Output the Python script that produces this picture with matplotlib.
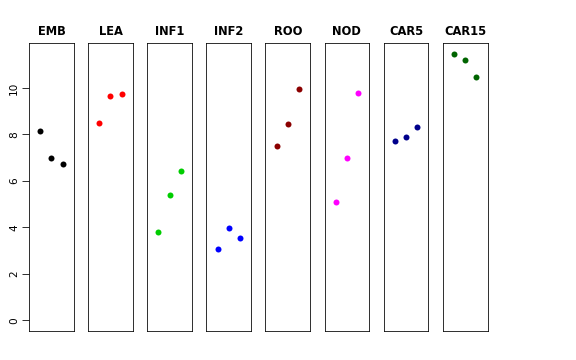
import matplotlib
matplotlib.use("Agg")
import matplotlib.pyplot as plt

# one panel per tissue, three replicate values each
tissues = ["EMB", "LEA", "INF1", "INF2", "ROO", "NOD", "CAR5", "CAR15"]
emb = [8.14, 6.97, 6.74]
lea = [8.47, 9.66, 9.72]
inf1 = [3.82, 5.41, 6.41]
inf2 = [3.06, 3.96, 3.55]
roo = [7.48, 8.44, 9.97]
nod = [5.11, 6.98, 9.80]
car5 = [7.71, 7.88, 8.31]
car15 = [11.46, 11.20, 10.46]
colors = ["black", "#FF0000", "#00CD00", "#0000FF", "#8B0000", "#FF00FF", "#00008B", "#006400"]
reps = [1, 2, 3]

values = [emb, lea, inf1, inf2, roo, nod, car5, car15]
ymax = max(max(v) for v in values)
pad = 0.04 * ymax

W, H = 576, 360
fig = plt.figure(figsize=(W / 72, H / 72), dpi=72)

left0, step, pw = 29, 59.1, 44.8
top, bottom = 43.3, 331

for i, (name, vals, col) in enumerate(zip(tissues, values, colors)):
    ax = fig.add_axes([(left0 + i * step) / W, (H - bottom) / H, pw / W, (bottom - top) / H])
    ax.plot(reps, vals, "o", color=col, markersize=6, markeredgewidth=0)
    ax.set_xlim(0, 4)
    ax.set_ylim(-pad, ymax + pad)
    ax.set_xticks([])
    for s in ax.spines.values():
        s.set_linewidth(0.8)
    ax.set_title(name, fontsize=11.5, fontweight="bold", family="DejaVu Sans", pad=8)
    if i == 0:
        ax.set_yticks([0, 2, 4, 6, 8, 10])
        ax.tick_params(axis="y", length=7, width=0.8, labelsize=10.5, pad=3)
        for t in ax.get_yticklabels():
            t.set_rotation(90)
            t.set_va("center")
            t.set_family("DejaVu Sans")
    else:
        ax.set_yticks([])

fig.savefig("out.png", dpi=72)
